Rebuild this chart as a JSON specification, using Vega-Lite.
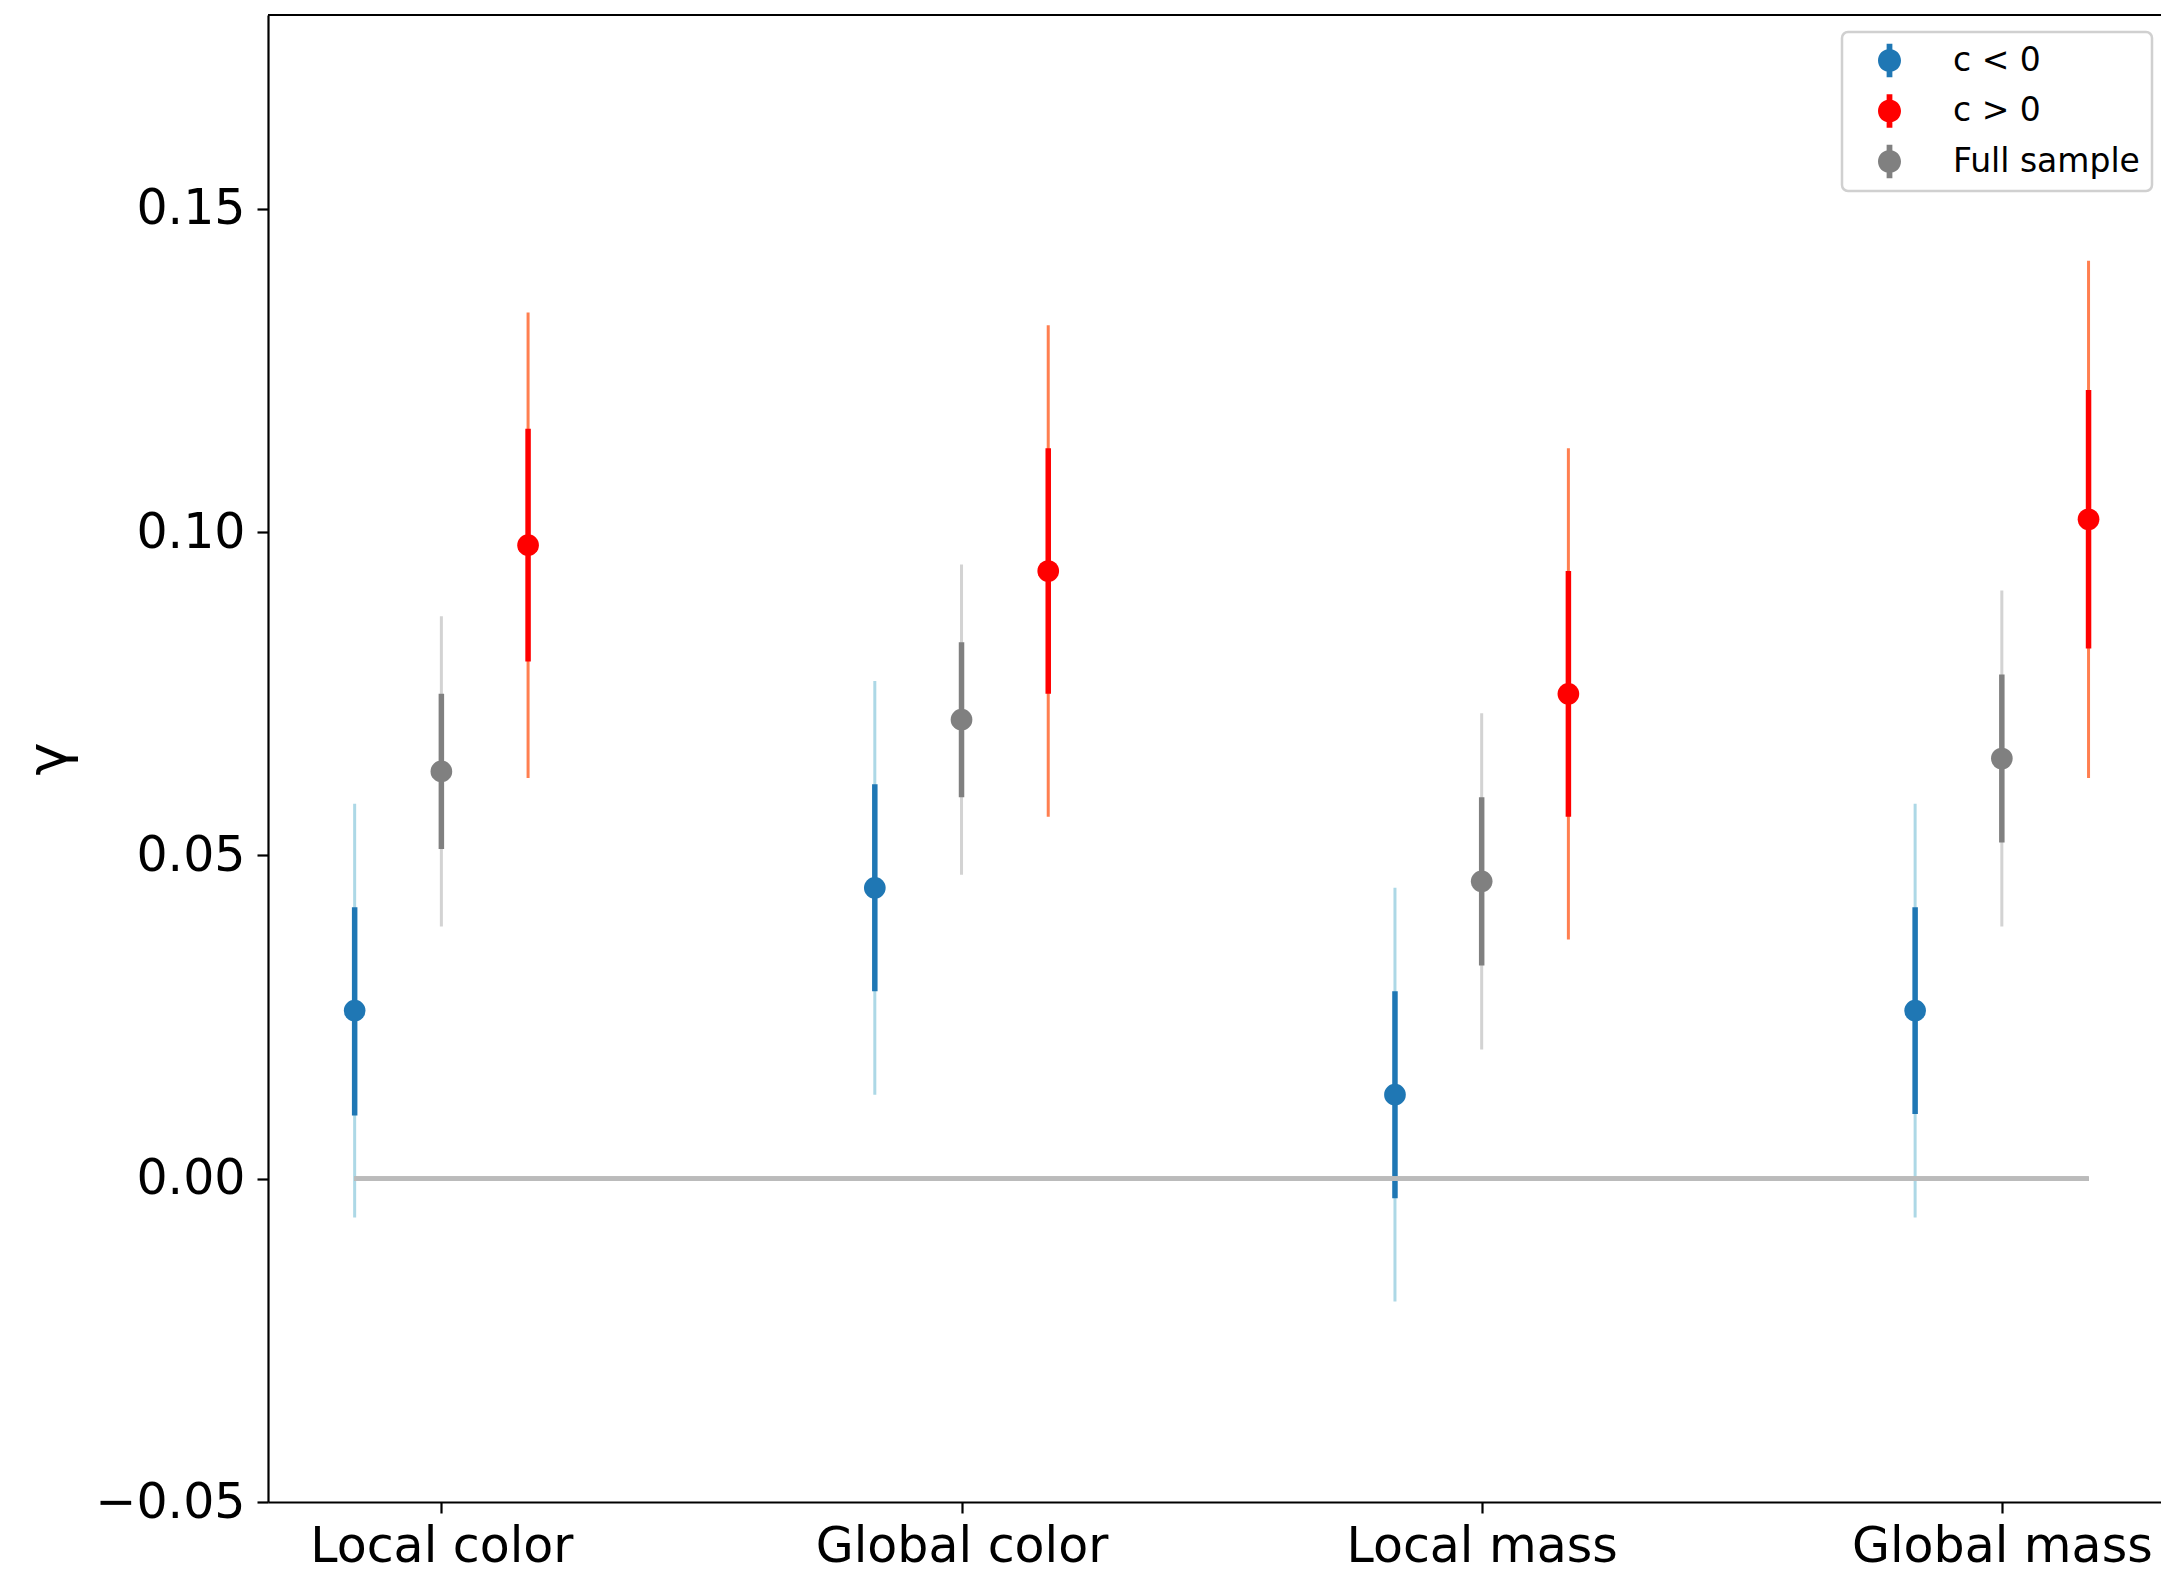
{
  "$schema": "https://vega.github.io/schema/vega-lite/v6.json",
  "width": 1893,
  "height": 1487,
  "autosize": {"type": "none"},
  "padding": {"left": 268, "top": 15, "right": 0, "bottom": 74},
  "background": "white",
  "config": {
    "view": {"stroke": null},
    "font": "DejaVu Sans",
    "axis": {
      "grid": false,
      "domainColor": "black",
      "domainWidth": 2.2,
      "tickColor": "black",
      "tickWidth": 2.2,
      "tickSize": 11,
      "labelColor": "black",
      "labelFont": "DejaVu Sans",
      "labelFontSize": 49,
      "labelLimit": 1000,
      "labelFlush": false,
      "labelOverlap": false,
      "titleFont": "DejaVu Sans",
      "titleColor": "black",
      "titleFontWeight": "normal"
    }
  },
  "data": {
    "values": [
      {"group": "Local color", "series": "c < 0", "x": -0.1667, "y": 0.026, "lo1": 0.0098, "hi1": 0.042, "lo2": -0.006, "hi2": 0.058},
      {"group": "Local color", "series": "Full sample", "x": 0, "y": 0.063, "lo1": 0.051, "hi1": 0.075, "lo2": 0.039, "hi2": 0.087},
      {"group": "Local color", "series": "c > 0", "x": 0.1667, "y": 0.098, "lo1": 0.080, "hi1": 0.116, "lo2": 0.062, "hi2": 0.134},
      {"group": "Global color", "series": "c < 0", "x": 0.8333, "y": 0.045, "lo1": 0.029, "hi1": 0.061, "lo2": 0.013, "hi2": 0.077},
      {"group": "Global color", "series": "Full sample", "x": 1, "y": 0.071, "lo1": 0.059, "hi1": 0.083, "lo2": 0.047, "hi2": 0.095},
      {"group": "Global color", "series": "c > 0", "x": 1.1667, "y": 0.094, "lo1": 0.075, "hi1": 0.113, "lo2": 0.056, "hi2": 0.132},
      {"group": "Local mass", "series": "c < 0", "x": 1.8333, "y": 0.013, "lo1": -0.003, "hi1": 0.029, "lo2": -0.019, "hi2": 0.045},
      {"group": "Local mass", "series": "Full sample", "x": 2, "y": 0.046, "lo1": 0.033, "hi1": 0.059, "lo2": 0.020, "hi2": 0.072},
      {"group": "Local mass", "series": "c > 0", "x": 2.1667, "y": 0.075, "lo1": 0.056, "hi1": 0.094, "lo2": 0.037, "hi2": 0.113},
      {"group": "Global mass", "series": "c < 0", "x": 2.8333, "y": 0.026, "lo1": 0.010, "hi1": 0.042, "lo2": -0.006, "hi2": 0.058},
      {"group": "Global mass", "series": "Full sample", "x": 3, "y": 0.065, "lo1": 0.052, "hi1": 0.078, "lo2": 0.039, "hi2": 0.091},
      {"group": "Global mass", "series": "c > 0", "x": 3.1667, "y": 0.102, "lo1": 0.082, "hi1": 0.122, "lo2": 0.062, "hi2": 0.142}
    ]
  },
  "encoding": {
    "x": {
      "field": "x",
      "type": "quantitative",
      "scale": {"domain": [-0.3333, 3.306], "nice": false, "zero": false},
      "axis": {
        "values": [0, 1, 2, 3],
        "labelExpr": "['Local color','Global color','Local mass','Global mass'][datum.value]",
        "labelPadding": 9,
        "title": null
      }
    }
  },
  "layer": [
    {
      "mark": {"type": "rule", "strokeWidth": 3},
      "encoding": {
        "y": {
          "field": "lo2",
          "type": "quantitative",
          "scale": {"domain": [-0.05, 0.18], "nice": false, "zero": false},
          "axis": {
            "values": [-0.05, 0, 0.05, 0.1, 0.15],
            "format": ".2f",
            "labelPadding": 12,
            "title": "γ",
            "titleFontSize": 56,
            "titlePadding": 17
          }
        },
        "y2": {"field": "hi2"},
        "stroke": {
          "field": "series",
          "type": "nominal",
          "scale": {"domain": ["c > 0", "c < 0", "Full sample"], "range": ["#ff7f50", "#add8e6", "#d3d3d3"]},
          "legend": null
        }
      }
    },
    {
      "mark": {"type": "rule", "strokeWidth": 5.5},
      "encoding": {
        "y": {"field": "lo1", "type": "quantitative"},
        "y2": {"field": "hi1"},
        "color": {
          "field": "series",
          "type": "nominal",
          "scale": {"domain": ["Full sample", "c < 0", "c > 0"], "range": ["#808080", "#1f77b4", "#ff0000"]},
          "legend": null
        }
      }
    },
    {
      "mark": {"type": "point", "filled": true, "size": 470, "opacity": 1, "strokeWidth": 0},
      "encoding": {
        "y": {"field": "y", "type": "quantitative"},
        "fill": {
          "field": "series",
          "type": "nominal",
          "scale": {"domain": ["c < 0", "c > 0", "Full sample"], "range": ["#1f77b4", "#ff0000", "#808080"]},
          "legend": {
            "title": null,
            "orient": "none",
            "legendX": 1574,
            "legendY": 17,
            "padding": 12,
            "strokeColor": "#d0d0d0",
            "fillColor": "white",
            "cornerRadius": 6,
            "symbolType": "M -1,0 A 1,1 0 1,1 1,0 A 1,1 0 1,1 -1,0 Z M -0.25,-1.45 L 0.25,-1.45 L 0.25,1.45 L -0.25,1.45 Z",
            "symbolSize": 529,
            "symbolStrokeWidth": 0,
            "symbolOpacity": 1,
            "symbolOffset": 19,
            "labelOffset": 47,
            "rowPadding": 15.5,
            "labelFont": "DejaVu Sans",
            "labelFontSize": 33,
            "labelLimit": 400,
            "labelColor": "black",
            "encode": {"legend": {"update": {"strokeWidth": {"value": 2.5}}}}
          }
        }
      }
    },
    {
      "mark": {"type": "rule", "color": "#bbbbbb", "strokeWidth": 3.8},
      "encoding": {
        "x": {"datum": -0.1667, "type": "quantitative"},
        "x2": {"datum": 3.1667},
        "y": {"datum": 0, "type": "quantitative"}
      }
    },
    {
      "mark": {"type": "rule", "color": "black", "strokeWidth": 2.2},
      "encoding": {
        "x": {"datum": -0.3333, "type": "quantitative"},
        "x2": {"datum": 3.306},
        "y": {"datum": 0.18, "type": "quantitative"}
      }
    }
  ]
}
